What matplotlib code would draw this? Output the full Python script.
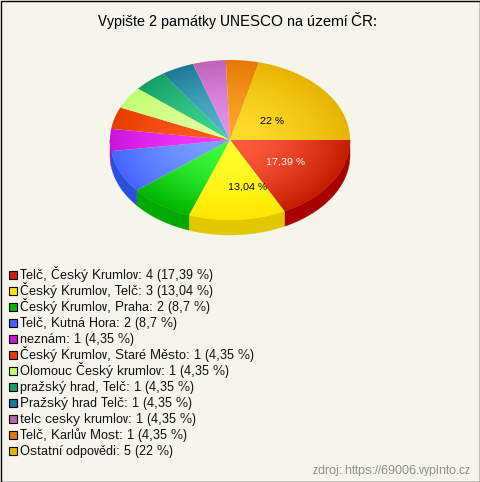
import numpy as np
import matplotlib
matplotlib.use("Agg")
import matplotlib.pyplot as plt
from matplotlib.patches import Polygon, Rectangle
from matplotlib.colors import to_rgb

plt.rcParams['font.family'] = ['Liberation Sans', 'DejaVu Sans']
plt.rcParams['text.hinting'] = 'native'
plt.rcParams['text.hinting_factor'] = 1

title = "Vypište 2 památky UNESCO na území ČR:"
source = "zdroj: https://69006.vyplnto.cz"
categories = ["Telč, Český Krumlov", "Český Krumlov, Telč", "Český Krumlov, Praha",
              "Telč, Kutná Hora", "neznám", "Český Krumlov, Staré Město",
              "Olomouc Český krumlov", "pražský hrad, Telč", "Pražský hrad Telč",
              "telc cesky krumlov", "Telč, Karlův Most", "Ostatní odpovědi"]
counts = [4, 3, 2, 2, 1, 1, 1, 1, 1, 1, 1, 5]
percents = ["17,39", "13,04", "8,7", "8,7", "4,35", "4,35", "4,35", "4,35", "4,35", "4,35", "4,35", "22"]
# slice spans as drawn in the picture (whole degrees)
slice_degrees = [63, 47, 31, 31, 16, 16, 16, 16, 16, 16, 16, 76]
inner = ["#ff5c3e", "#ffff2a", "#3cff3c", "#7ba4ff", "#f53cff", "#ff5c1e",
         "#e4ffa0", "#3cd48e", "#52b6cc", "#e890ea", "#ffa42c", "#ffdc2c"]
outer = ["#c41c00", "#ffe600", "#00b400", "#4664ff", "#c814dc", "#e63c00",
         "#c0ff70", "#14a064", "#1e7896", "#be64b9", "#e67800", "#e6b400"]
side = ["#aa0000", "#e3c800", "#00aa00", "#2a4fdc", "#a010b0", "#b83000",
        "#98cc58", "#108050", "#186078", "#985094", "#b86000", "#b89000"]
key = ["#c81e00", "#ffe600", "#00b400", "#4664ff", "#c814dc", "#e63c00",
       "#c0ff70", "#14a064", "#1e7896", "#be64b9", "#e67800", "#e6b400"]
bg = "#f5f5ec"

W, H = 480, 482
fig = plt.figure(figsize=(W / 100, H / 100), dpi=100, facecolor=bg)
ax = fig.add_axes([0, 0, 1, 1])
ax.set_facecolor(bg)
ax.axis("off")

cx, cy, rx, ry, depth = 230, 140, 120, 80, 15
edges = np.radians(np.cumsum([0] + slice_degrees))

# side walls (only the front half of the ellipse is visible)
for i in range(len(counts)):
    a0, a1 = edges[i], min(edges[i + 1], np.pi)
    if a0 >= np.pi:
        continue
    t = np.linspace(a0, a1, 60)
    x, y = cx + rx * np.cos(t), cy + ry * np.sin(t)
    pts = np.r_[np.c_[x, y], np.c_[x[::-1], y[::-1] + depth]]
    ax.add_patch(Polygon(pts, closed=True, fc=side[i], ec=side[i], lw=0.3, zorder=1))

# top face with a radial gradient per slice
yy, xx = np.mgrid[-1:1:400j, -1:1:400j]
rad = np.clip(np.hypot(xx, yy), 0, 1)[..., None] ** 1.6
for i in range(len(counts)):
    t = np.linspace(edges[i], edges[i + 1], 80)
    pts = np.r_[[[cx, cy]], np.c_[cx + rx * np.cos(t), cy + ry * np.sin(t)]]
    patch = Polygon(pts, closed=True, fc="none", ec="none", transform=ax.transData)
    ax.add_patch(patch)
    img = np.array(to_rgb(inner[i])) * (1 - rad) + np.array(to_rgb(outer[i])) * rad
    im = ax.imshow(img, extent=(cx - rx, cx + rx, cy + ry, cy - ry), aspect="auto",
                   interpolation="bilinear", zorder=2)
    im.set_clip_path(patch)

ax.set_xlim(0, W)
ax.set_ylim(H, 0)

# slice labels
ax.text(272, 124, percents[11] + " %", fontsize=7.2, color="black", ha="center", va="baseline", zorder=3)
ax.text(285, 165, percents[0] + " %", fontsize=7.2, color="white", ha="center", va="baseline", zorder=3)
ax.text(248, 190, percents[1] + " %", fontsize=7.2, color="black", ha="center", va="baseline", zorder=3)

ax.text(238, 26, title, fontsize=10.75, color="black", ha="center", va="baseline")

# legend
for i, (c, n, p) in enumerate(zip(categories, counts, percents)):
    y = 274.5 + i * 16
    ax.add_patch(Rectangle((9, y - 4), 7.5, 8, fc=key[i], ec="black", lw=0.8))
    ax.text(20, y + 4.5, f"{c}: {n} ({p} %)", fontsize=9.5, color="#111111", ha="left", va="baseline")

ax.text(470, 474, source, fontsize=8.8, color="#8c8c8c", ha="right", va="baseline")

ax.add_patch(Rectangle((0.5, 0.5), W - 1, H - 1, fc="none", ec="black", lw=1, zorder=5))

fig.savefig("out.png", dpi=100, facecolor=bg)
